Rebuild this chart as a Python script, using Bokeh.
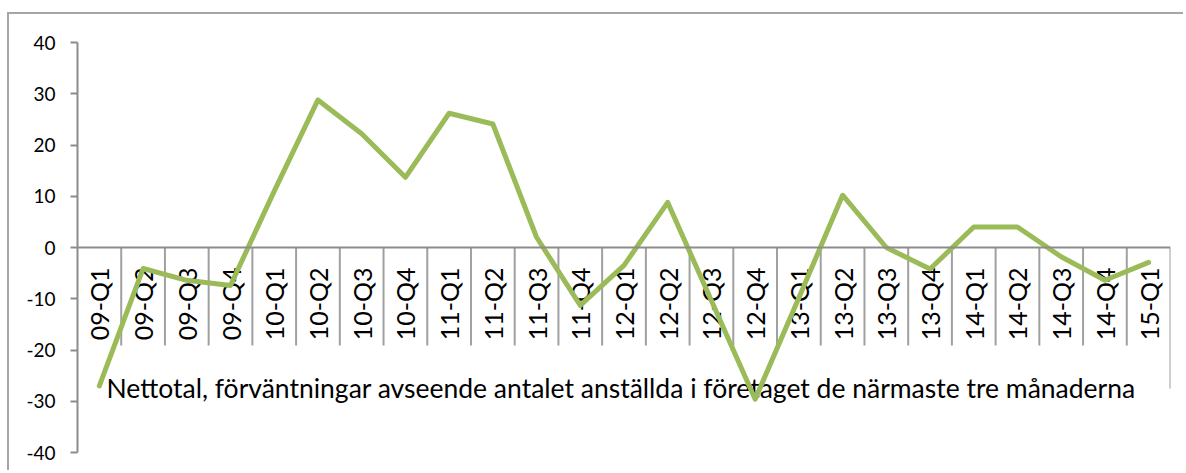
import numpy as np
from bokeh.plotting import figure
from bokeh.models import Range1d, FixedTicker, Span, PrintfTickFormatter
from bokeh.embed import file_html
from bokeh.resources import INLINE
from bokeh.core.properties import value

# ---- data ----
categories = ["09-Q1", "09-Q2", "09-Q3", "09-Q4",
              "10-Q1", "10-Q2", "10-Q3", "10-Q4",
              "11-Q1", "11-Q2", "11-Q3", "11-Q4",
              "12-Q1", "12-Q2", "12-Q3", "12-Q4",
              "13-Q1", "13-Q2", "13-Q3", "13-Q4",
              "14-Q1", "14-Q2", "14-Q3", "14-Q4",
              "15-Q1"]
values = [-27.0, -4.1, -6.4, -7.4,
          11.0, 28.8, 22.2, 13.7,
          26.2, 24.1, 2.0, -11.3,
          -3.5, 8.8, -10.4, -29.6,
          -9.8, 10.2, 0.0, -4.2,
          4.0, 4.0, -1.8, -6.4,
          -2.9]
series_name = "Nettotal, förväntningar avseende antalet anställda i företaget de närmaste tre månaderna"
y_ticks = [-40, -30, -20, -10, 0, 10, 20, 30, 40]

FONT = "Lato"
GRAY = "#8c8c8c"
GREEN = "#9bbb59"

n = len(categories)
xs = list(range(n))

p = figure(width=1176, height=458, output_backend="svg", toolbar_location=None,
           x_range=Range1d(-0.5, n - 0.5), y_range=Range1d(-40, 40),
           min_border_left=68, min_border_right=15, min_border_top=28, min_border_bottom=20,
           x_axis_location=None)
p.styles = {"border-top": "2px solid #a6a6a6", "border-left": "2px solid #a6a6a6",
            "position": "absolute", "top": "12px", "left": "7px"}
p.outline_line_color = None
p.grid.visible = False
p.background_fill_color = "white"
p.border_fill_color = "white"

ax = p.yaxis[0]
ax.ticker = FixedTicker(ticks=y_ticks)
ax.formatter = PrintfTickFormatter(format="%d")
ax.minor_tick_line_color = None
ax.major_tick_in = 0
ax.major_tick_out = 7
ax.major_tick_line_color = GRAY
ax.major_tick_line_width = 2
ax.axis_line_color = GRAY
ax.axis_line_width = 2
ax.major_label_text_font = FONT
ax.major_label_text_font_size = "19px"
ax.major_label_text_color = "black"
ax.major_label_standoff = 15

# horizontal category axis line at zero
p.add_layout(Span(location=0, dimension="width", line_color=GRAY, line_width=2))

# category dividers
div_x = [i + 0.5 for i in range(n - 1)]
p.segment(x0=div_x, y0=0, x1=div_x, y1=-19.1, line_color="#a0a0a0", line_width=2)
p.segment(x0=[n - 0.5], y0=0, x1=[n - 0.5], y1=-27.5, line_color="#a0a0a0", line_width=2)

# category labels (rotated)
p.text(x=xs, y=-3.9, text=categories, angle=np.pi / 2,
       text_align="right", text_baseline="middle",
       text_font=value(FONT), text_font_size="25px", text_color="black")

# series name (legend)
p.text(x=[0.163], y=[-27.5], text=[series_name], text_align="left",
       text_baseline="alphabetic", text_font=value(FONT), text_font_size="26.5px",
       text_color="black")

# data line
p.line(xs, values, line_color=GREEN, line_width=5, line_join="round", line_cap="round")

open("out.html", "w").write(file_html(p, INLINE))
